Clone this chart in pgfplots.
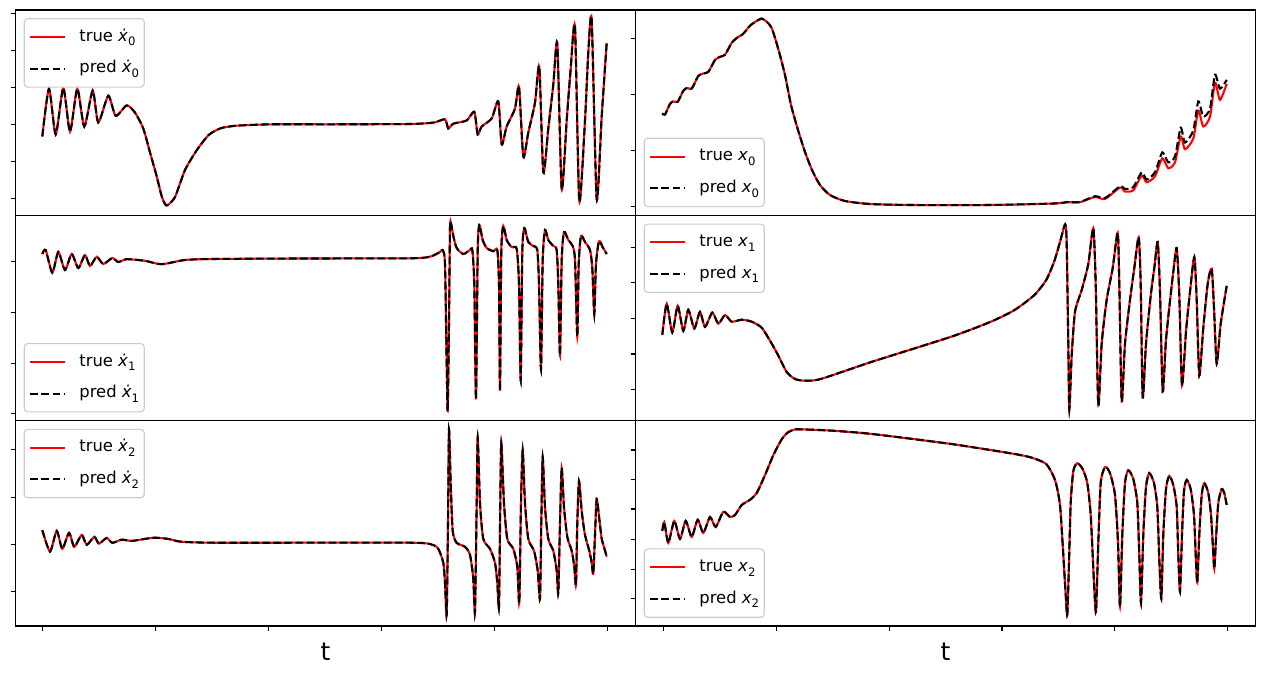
\documentclass[border=0pt]{standalone}
\usepackage{fontspec}
\setmainfont{DejaVu Sans}
\usepackage{pgfplots}
\usepackage{pgfplotstable}
\pgfplotsset{compat=1.18}

% data (x: pixel column, y: pixel row)
\pgfplotstableread{
x y
42.3 136.5
49 88.7
55.7 134.5
63.3 87.9
70 131.7
77.3 88.7
84.3 126.5
92.7 90.7
98.3 122.5
108.3 95.8
115.7 115.8
126.7 105.4
135 112.6
143.3 128.5
150 152.4
156.7 176.3
161.7 196.2
166.5 205.5
175 197
185 170
196.9 150
208.7 135
220.6 128.3
236.4 125.7
272 124.3
331 124.3
410 124
434 122.5
445 119.3
448.3 128.5
453.3 123.7
466.7 120.5
474.3 111.8
477.7 134.5
481.7 126.5
491.7 118.5
498.3 101.4
501.7 144.4
506.7 126.5
515 108.6
519 86.7
523.3 156.4
528.3 132.5
535 102.6
539.3 66.8
543.3 172.3
548.3 128.5
553.3 84.7
557.3 44
561.7 189
566.7 120.5
570.7 68.7
575 26.9
579.3 201
585 120.5
588.3 52.8
591.7 19.7
596.7 199
601.7 116.6
606.7 42.8
}\dxzero

\pgfplotstableread{
x y
662.3 113.4
665 114.6
670 103.8
673.3 101.4
677.7 101.8
683.3 90.7
687.3 87.9
691.7 88.7
698.3 75.9
703.3 73.5
708.3 71.9
715 60
720 56.8
725 54.8
731.7 42.8
736.7 38
743.3 33.7
750 25.7
756.7 20.9
761.7 18.6
766.7 21.7
771.7 28
778 48
785 75
791 105
798 130
805 152
812 170
820 185
830 195
845 201
870 204
912 205
990 205
1054 203.5
1066.7 202.2
1080 202.2
1095 197
1105 199
1120 187.5
1125 191.5
1133.3 190.3
1141.7 175.5
1146.7 182.3
1155 176.3
1162.3 158.4
1168.3 168.3
1175 162.4
1180.7 136.5
1185 149.2
1193.3 138.5
1198.3 110.6
1203.3 126.5
1210 116.6
1215 82.7
1220 99.8
1226.7 83.9
}\xzerotrue

\pgfplotstableread{
x y
662.3 113.4
665 114.6
670 103.8
673.3 101.4
677.7 101.8
683.3 90.7
687.3 87.9
691.7 88.7
698.3 75.9
703.3 73.5
708.3 71.9
715 60
720 56.8
725 54.8
731.7 42.8
736.7 38
743.3 33.7
750 25.7
756.7 20.9
761.7 18.6
766.7 21.7
771.7 28
778 48
785 75
791 105
798 130
805 152
812 170
820 185
830 195
845 201
870 204
912 205
990 205
1054 203.5
1066.7 202.2
1080 202
1095 196.2
1105 198
1120 186.3
1125 189
1133.3 187
1141.7 172.3
1146.7 179.5
1155 172.3
1162.3 152.4
1168.3 162.4
1175 156.4
1180.7 127.7
1185 142.5
1193.3 130.5
1198.3 101.4
1203.3 116.6
1210 108.6
1215 74.7
1220 88.7
1226.7 79.9
}\xzeropred

\pgfplotstableread{
x y
42.3 254
45.7 250
52.3 272.7
58.3 252
65 270
71.7 254
78.3 268
85 255
90 266
96.7 256.8
103.3 264
112.3 258
118.3 262
126.7 259.2
145 260.8
161.5 264.2
185 260
212.7 259
300 258.5
410 258.3
430 256.7
440 252
442.7 250
445 264
446.7 363.6
447.7 411
449 323.7
450 228.1
451 223.3
453.3 236
456.7 248
463.3 254
470 250
472.3 250
474.3 283.9
476 399.4
477.7 252
479.3 224.9
482.7 240
486.7 248
493.3 251.2
497.3 250
499 283.9
500 390.7
501.3 252
503.3 226
506.7 240
511.7 247.2
516.7 248.8
519 283.9
520.7 380.3
522.3 252
524.3 228.1
528.3 242
533.3 246
537.3 250
539 283.9
541 369.5
542.7 260
545 230
548.3 240
553.3 246
556.7 250
558.3 283.9
560 355.6
561.7 260
564 232.1
568.3 240
572.7 246
575 260
577.3 336.5
578.7 264
581 236
585 242
590 250
592.3 268
594.3 313.8
596 264
599 241.3
602.7 247.2
606.7 254
}\dxone

\pgfplotstableread{
x y
662.3 334.9
666.7 303.8
672.3 332.5
677.7 305.8
683.3 330.9
688.3 309.8
694.3 328.5
700 311.8
705 326.9
712.3 312.6
718.3 323.7
725 315
731.7 321.7
741.7 319.7
751.7 321.7
761.7 327.7
771.7 343.6
778 355
786.7 372
795 379
805 380.7
820.8 379
872.2 361.7
951.3 336.7
990.9 321.7
1014.6 310
1034.4 295
1046.2 280
1054.1 261.7
1060.1 241.7
1065.2 224.3
1066.7 244
1068.3 343.6
1069.3 409.4
1071.7 355.6
1075 311.8
1081.7 289.9
1088.3 264
1093.3 228.1
1095.7 283.9
1098.3 405.4
1101.7 343.6
1106.7 299.8
1112.7 268
1117.7 232.9
1119.3 283.9
1121.7 401.4
1125 343.6
1130 299.8
1134.3 268
1138.7 237.3
1140.7 283.9
1142.7 397.4
1146 343.6
1150.7 295.8
1154.3 268
1157.7 242
1160 291.9
1162.7 391.5
1166 339.7
1171 291.9
1173.3 271.9
1176.7 248
1179.3 295.8
1182 385.5
1186 331.7
1190 291.9
1194.3 257.2
1196.7 299.8
1199.3 375.5
1203.3 327.7
1207.7 283.9
1211.7 268.7
1214 307.8
1216.7 363.6
1220.7 323.7
1226.7 285.9
}\xone

\pgfplotstableread{
x y
42.3 530.1
50 551.6
56.7 530.9
62.3 548.8
69 532.9
74.3 546.8
81.7 534.9
86.7 544.8
94.3 536.9
99 543.6
106.7 538
112.3 542.8
121.7 539.7
131.7 540.9
145 538.9
155 537.7
168.3 538.9
181 541.7
212.7 542.7
300 542.7
410 542.7
430 544
438 548.3
443.3 562.8
445 582.7
446.7 614.6
448 522.9
449 429.3
450.7 483.1
452.7 530.9
456.7 542.8
465 546.8
470 554.8
473.3 578.7
475 611.4
476.7 503
477.7 437.3
480 503
483.3 538.9
490 548.8
495 562.8
497.3 582.7
499 606.6
500.3 503
501.3 443.2
504 503
507.3 538.9
513.3 548.8
517.3 566.7
519.3 602.6
521 503
522.7 450.4
525 503
528.3 538.9
534 550.8
537.7 570.7
540 598.6
541.3 522.9
542.7 457.2
545 507
548.3 538.9
553.3 550.8
556.7 570.7
558.3 592.7
560 522.9
561.7 467.9
564 507
567.3 536.9
571.7 550.8
574.3 566.7
576 584.7
577.3 522.9
579 481.1
581.7 511
585 534.9
589.3 550.8
591.7 562.8
593.3 573.9
595 534.9
596.7 499
599.3 518.9
601.7 538.9
604 546.8
606.7 556.8
}\dxtwo

\pgfplotstableread{
x y
662.3 530.9
664.3 522.1
668.3 542.8
674.3 520.9
680 538.9
685.7 520.9
691.7 536.9
697.7 519.7
703.3 532.9
710 517
715.7 526.9
723.3 511.8
730 517
735 515
741.7 505
750 499.8
756.7 493
765 475.1
773.3 455.2
781.7 439.3
788.3 432.1
795 429.5
801 429.3
832.7 430.7
872.2 434
951.3 444
1010.6 453.3
1030.4 457.3
1046.2 464
1055 480
1060 505
1063.3 554.8
1065.7 594.6
1067.3 614.6
1069 562.8
1070.7 503
1073.3 471.1
1077.3 463.2
1082.7 469.1
1087.3 483.1
1090.7 515
1094 582.7
1096 611.4
1098.3 542.8
1100.7 483.1
1105 467.1
1110 473.1
1115 495
1118 542.8
1120 606.6
1122.3 534.9
1125 483.1
1128.3 470.3
1133.3 479.1
1137.3 503
1139.3 554.8
1141 602.6
1143.3 534.9
1146 487.1
1149.3 473.1
1154 483.1
1157.3 507
1159.3 558.8
1161.3 598.6
1163.3 534.9
1166 489.1
1169.3 475.9
1173.3 485.1
1176.7 507
1178.3 554.8
1180 591.4
1182 534.9
1184 491.1
1186.7 479.9
1190.7 489.1
1194 515
1195.7 554.8
1197.3 582.7
1199.3 534.9
1201.7 495
1204.3 483.1
1208.3 493
1211 515
1212.7 542.8
1214.3 568.7
1216 538.9
1218.3 503
1221.7 489.1
1224.3 493
1226.7 505
}\xtwo

\pgfplotsset{
  legend image code/.code={\draw[#1] (0pt,0pt) -- (25pt,0pt);},
  panel/.style={
    scale only axis, width=446.4pt, height=147.84pt,
    anchor=north west,
    y dir=reverse,
    axis line style={line width=0.8pt},
    every tick/.style={black, line width=0.8pt},
    major tick length=3.5pt,
    tick align=outside,
    xtick pos=bottom, ytick pos=left,
    xticklabels={}, yticklabels={},
    legend cell align=left,
    legend style={font=\fontsize{11.8}{13.8}\selectfont, draw=black!20, line width=0.8pt,
      rounded corners=2.5pt, fill=white, inner xsep=3.7pt, inner ysep=7.2pt,
      column sep=9.5pt, row sep=10.8pt,
      nodes={inner sep=0pt, text height=9pt, text depth=3pt}},
  },
  leftcol/.style={xmin=15.5, xmax=635.5},
  rightcol/.style={xmin=635.5, xmax=1255.5},
  lxt/.style={xtick={42.8,155.7,268.6,381.5,494.4,607.3}},
  rxt/.style={xtick={663.3,776.2,889.1,1002,1114.9,1227.8}},
  tl/.style={legend style={at={(0,1)}, anchor=north west, xshift=5.9pt, yshift=-5.9pt}},
  bl/.style={legend style={at={(0,0)}, anchor=south west, xshift=5.9pt, yshift=5.9pt}},
  truel/.style={red, line width=1.5pt, smooth, tension=0.4},
  predl/.style={black, line width=1.5pt, dash pattern=on 5.55pt off 2.4pt, smooth, tension=0.4},
}
\newcommand{\sub}[1]{\raisebox{-0.28em}{\fontsize{8.4}{9}\selectfont #1}}
\newcommand{\xd}{\textit{\.{x}}}
\newcommand{\xx}{\textit{x}}

\begin{document}
\begin{tikzpicture}
\path[use as bounding box] (0pt,0pt) rectangle (910.08pt,-486pt);

% row 1 left: dot x0
\begin{axis}[panel, leftcol, at={(11.16pt,-7.2pt)}, ymin=10, ymax=215.33,
  xtick=\empty, ytick={13.3,50.3,87.3,124.3,161.3,198.3}, tl]
\addplot[truel] table {\dxzero};
\addlegendentry{true \xd\sub{0}}
\addplot[predl] table {\dxzero};
\addlegendentry{pred \xd\sub{0}}
\end{axis}

% row 2 left: dot x1
\begin{axis}[panel, leftcol, at={(11.16pt,-155.04pt)}, ymin=215.33, ymax=420.67,
  xtick=\empty, ytick={261.7,312.9,363.3,413.2}, bl]
\addplot[truel] table {\dxone};
\addlegendentry{true \xd\sub{1}}
\addplot[predl] table {\dxone};
\addlegendentry{pred \xd\sub{1}}
\end{axis}

% row 3 left: dot x2
\begin{axis}[panel, leftcol, lxt, at={(11.16pt,-302.88pt)}, ymin=420.67, ymax=626,
  ytick={449.2,497.1,544.2,591.3}, tl]
\addplot[truel] table {\dxtwo};
\addlegendentry{true \xd\sub{2}}
\addplot[predl] table {\dxtwo};
\addlegendentry{pred \xd\sub{2}}
\end{axis}

% row 1 right: x0
\begin{axis}[panel, rightcol, at={(457.56pt,-7.2pt)}, ymin=10, ymax=215.33,
  xtick=\empty, ytick={38.9,94.6,150.4,206.2}, bl]
\addplot[truel] table {\xzerotrue};
\addlegendentry{true \xx\sub{0}}
\addplot[predl] table {\xzeropred};
\addlegendentry{pred \xx\sub{0}}
\end{axis}

% row 2 right: x1
\begin{axis}[panel, rightcol, at={(457.56pt,-155.04pt)}, ymin=215.33, ymax=420.67,
  xtick=\empty, ytick={247.2,282.7,318.1,354,389.9}, tl]
\addplot[truel] table {\xone};
\addlegendentry{true \xx\sub{1}}
\addplot[predl] table {\xone};
\addlegendentry{pred \xx\sub{1}}
\end{axis}

% row 3 right: x2
\begin{axis}[panel, rightcol, rxt, at={(457.56pt,-302.88pt)}, ymin=420.67, ymax=626,
  ytick={450,479.9,509,539.3,569.2,598.6}, bl]
\addplot[truel] table {\xtwo};
\addlegendentry{true \xx\sub{2}}
\addplot[predl] table {\xtwo};
\addlegendentry{pred \xx\sub{2}}
\end{axis}

\node[font=\fontsize{18}{20}\selectfont, anchor=base] at (234.36pt,-475.2pt) {t};
\node[font=\fontsize{18}{20}\selectfont, anchor=base] at (680.76pt,-475.2pt) {t};
\end{tikzpicture}
\end{document}
